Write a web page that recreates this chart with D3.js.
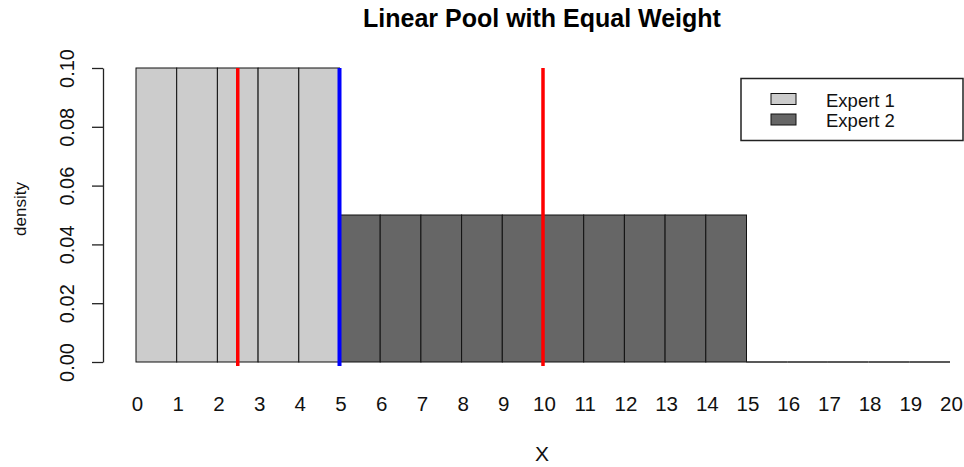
<!DOCTYPE html>
<html>
<head>
<meta charset="utf-8">
<script src="https://cdn.jsdelivr.net/npm/d3@7"></script>
<style>
  body { margin: 0; background: #fff; }
  svg { display: block; font-family: "Liberation Sans", Arial, sans-serif; }
</style>
</head>
<body>
<svg class="pool-chart"></svg>
<script>
// bins 0..19 (width 1)
const binStarts = d3.range(0, 20);
const densities = [0.1, 0.1, 0.1, 0.1, 0.1,
  0.05, 0.05, 0.05, 0.05, 0.05, 0.05, 0.05, 0.05, 0.05, 0.05,
  0, 0, 0, 0, 0];
const experts = ['Expert 1', 'Expert 1', 'Expert 1', 'Expert 1', 'Expert 1',
  'Expert 2', 'Expert 2', 'Expert 2', 'Expert 2', 'Expert 2',
  'Expert 2', 'Expert 2', 'Expert 2', 'Expert 2', 'Expert 2',
  '', '', '', '', ''];
const xTicks = d3.range(0, 21);
const yTicks = [0, 0.02, 0.04, 0.06, 0.08, 0.1];
const legendLabels = ['Expert 1', 'Expert 2'];
const redLines = [2.5, 10];
const blueLines = [5];

const width = 964;
const height = 467;
const fills = { 'Expert 1': '#cccccc', 'Expert 2': '#666666', '': 'none' };

const svg = d3.select('.pool-chart')
  .attr('width', width)
  .attr('height', height);

const x = d3.scaleLinear().domain([0, 20]).range([136, 950]);
const y = d3.scaleLinear().domain([0, 0.1]).range([362, 68]);

// title
svg.append('text')
  .attr('x', 542)
  .attr('y', 27)
  .attr('text-anchor', 'middle')
  .attr('font-weight', 'bold')
  .attr('font-size', 25)
  .text('Linear Pool with Equal Weight');

// bars (zero-height ones show only as a line on the baseline)
const bars = svg.append('g');
bars.selectAll('rect')
  .data(binStarts.filter((d, i) => densities[i] > 0))
  .enter()
  .append('rect')
  .attr('x', d => x(d))
  .attr('y', d => y(densities[d]))
  .attr('width', d => x(d + 1) - x(d))
  .attr('height', d => y(0) - y(densities[d]))
  .attr('fill', d => fills[experts[d]])
  .attr('stroke', '#111')
  .attr('stroke-width', 1);

bars.selectAll('line')
  .data(binStarts.filter((d, i) => densities[i] === 0))
  .enter()
  .append('line')
  .attr('x1', d => x(d))
  .attr('x2', d => x(d + 1))
  .attr('y1', y(0))
  .attr('y2', y(0))
  .attr('stroke', '#222')
  .attr('stroke-width', 1.3);

// x tick labels (no axis line in the original)
svg.append('g')
  .selectAll('text')
  .data(xTicks)
  .enter()
  .append('text')
  .attr('x', d => x(d) + 1.5)
  .attr('y', 411)
  .attr('text-anchor', 'middle')
  .attr('font-size', 20.5)
  .attr('fill', '#111')
  .text(d => d);

// y axis
const yAxis = svg.append('g')
  .attr('transform', 'translate(103, 0)')
  .call(d3.axisLeft(y).tickValues(yTicks).tickSize(11).tickSizeOuter(0)
    .tickFormat(d3.format('.2f')));
yAxis.select('.domain').attr('stroke', '#222').attr('stroke-width', 1.3);
yAxis.selectAll('.tick line').attr('stroke', '#222').attr('stroke-width', 1.3);
yAxis.selectAll('.tick text')
  .attr('font-size', 20)
  .attr('font-family', '"Liberation Sans", Arial, sans-serif')
  .attr('fill', '#111')
  .attr('x', 0)
  .attr('dy', 0)
  .attr('text-anchor', 'middle')
  .attr('transform', 'translate(-36, 0) rotate(-90)')
  .attr('dominant-baseline', 'central');

// vertical reference lines
svg.append('g')
  .selectAll('line')
  .data(redLines)
  .enter()
  .append('line')
  .attr('x1', d => x(d))
  .attr('x2', d => x(d))
  .attr('y1', y(0.1))
  .attr('y2', y(0) + 4)
  .attr('stroke', '#ff0000')
  .attr('stroke-width', 3.5);

svg.append('g')
  .selectAll('line')
  .data(blueLines)
  .enter()
  .append('line')
  .attr('x1', d => x(d))
  .attr('x2', d => x(d))
  .attr('y1', y(0.1))
  .attr('y2', y(0) + 4)
  .attr('stroke', '#0000ff')
  .attr('stroke-width', 4);

// axis titles
svg.append('text')
  .attr('x', 542)
  .attr('y', 461)
  .attr('text-anchor', 'middle')
  .attr('font-size', 21)
  .attr('fill', '#111')
  .text('X');

svg.append('text')
  .attr('transform', 'translate(26, 209) rotate(-90)')
  .attr('text-anchor', 'middle')
  .attr('font-size', 17)
  .attr('fill', '#111')
  .text('density');

// legend
const legend = svg.append('g');
legend.append('rect')
  .attr('x', 741)
  .attr('y', 78.5)
  .attr('width', 222)
  .attr('height', 62)
  .attr('fill', '#fff')
  .attr('stroke', '#222')
  .attr('stroke-width', 1.5);

legendLabels.forEach((label, i) => {
  legend.append('rect')
    .attr('x', 771)
    .attr('y', 93.5 + i * 20.5)
    .attr('width', 25)
    .attr('height', 11)
    .attr('fill', fills[label])
    .attr('stroke', '#111');
  legend.append('text')
    .attr('x', 826)
    .attr('y', 107 + i * 19.5)
    .attr('font-size', 18.5)
    .attr('fill', '#111')
    .text(label);
});
</script>
</body>
</html>
